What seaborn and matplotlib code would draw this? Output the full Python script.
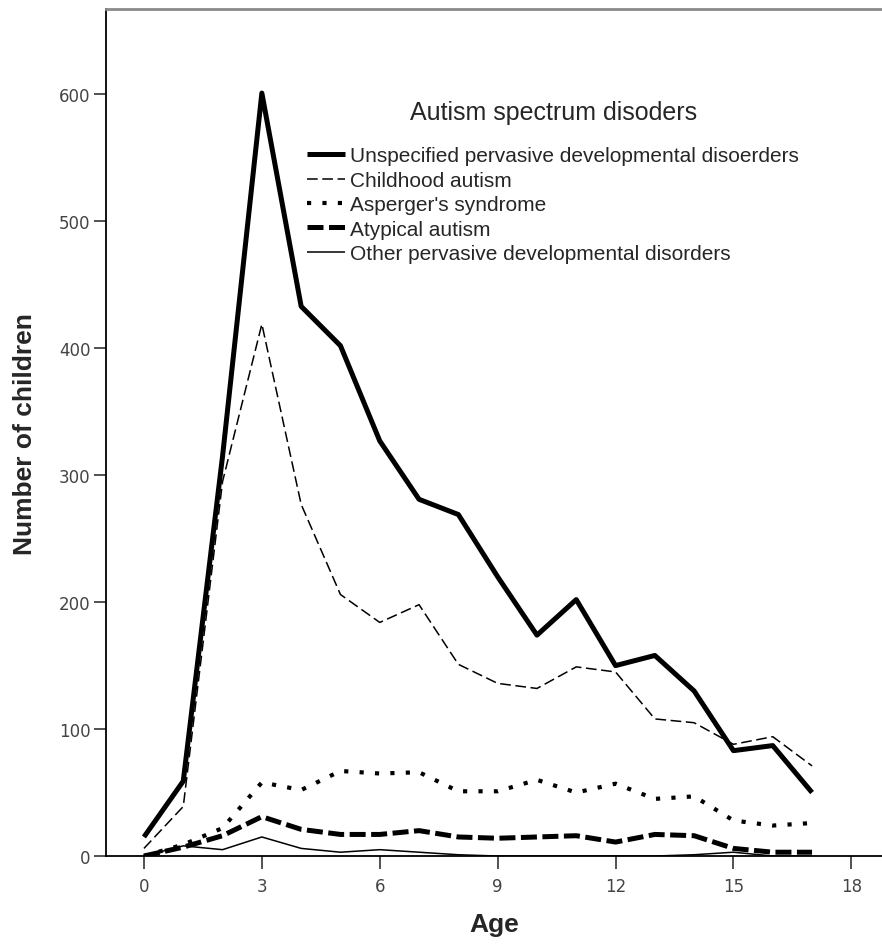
import pandas as pd
import matplotlib.pyplot as plt
import seaborn as sns

# ages 0..17
ages = list(range(18))

unspecified = [15, 59, 315, 601, 433, 402, 327, 281, 269, 220, 174, 202, 150, 158, 130, 83, 87, 50]
childhood = [6, 39, 295, 419, 277, 206, 184, 198, 151, 136, 132, 149, 145, 108, 105, 88, 94, 71]
asperger = [0, 9, 22, 58, 52, 67, 65, 66, 51, 51, 60, 50, 57, 45, 47, 28, 24, 26]
atypical = [0, 7, 16, 31, 21, 17, 17, 20, 15, 14, 15, 16, 11, 17, 16, 6, 3, 3]
other = [0, 8, 5, 15, 6, 3, 5, 3, 1, 0, 0, 0, 0, 0, 1, 3, 0, 0]

labels = [
    "Unspecified pervasive developmental disoerders",
    "Childhood autism",
    "Asperger's syndrome",
    "Atypical autism",
    "Other pervasive developmental disorders",
]
series = [unspecified, childhood, asperger, atypical, other]

x_ticks = [0, 3, 6, 9, 12, 15, 18]
y_ticks = [0, 100, 200, 300, 400, 500, 600]

# line width, dash pattern (None = solid)
styles = [
    (3.6, None),
    (1.1, (7, 3)),
    (3.0, (1, 2.7)),
    (3.6, (3.2, 1.1)),
    (1.1, None),
]

sns.set_style("ticks")
plt.rcParams['font.family'] = ['DejaVu Sans']

fig = plt.figure(figsize=(8.82, 9.45), dpi=100)
ax = fig.add_axes([0.120, 0.0931, 0.880, 0.896])

handles = []
for vals, lab, (lw, dash) in zip(series, labels, styles):
    df = pd.DataFrame({'age': ages, 'n': vals})
    sns.lineplot(data=df, x='age', y='n', ax=ax, color='black', linewidth=lw)
    line = ax.lines[-1]
    if dash is not None:
        line.set_dashes(dash)
    line.set_solid_capstyle('butt')
    line.set_label(lab)
    handles.append(line)

ax.set_xlim(-0.97, 18.78)
ax.set_ylim(0, 667)
ax.set_xticks(x_ticks)
ax.set_yticks(y_ticks)
ax.tick_params(axis='both', length=9, width=1.2, color='#333333',
               labelsize=12, labelcolor='#444444')
ax.tick_params(axis='x', pad=6)
ax.tick_params(axis='y', pad=2)

for s in ['left', 'bottom']:
    ax.spines[s].set_color('black')
    ax.spines[s].set_linewidth(1.3)
ax.spines['top'].set_visible(True)
ax.spines['top'].set_color('#8a8a8a')
ax.spines['top'].set_linewidth(2)
ax.spines['right'].set_visible(False)

lab_font = dict(family=['Liberation Sans Narrow', 'Liberation Sans'], fontweight='bold', fontsize=19)
ax.set_xlabel('Age', labelpad=12, **lab_font)
ax.set_ylabel('Number of children', labelpad=16, **lab_font)

leg = ax.legend(handles=handles, labels=labels, title='Autism spectrum disoders',
                loc='upper left', bbox_to_anchor=(0.246, 0.905), frameon=False,
                prop={'family': 'Liberation Sans', 'size': 15},
                title_fontproperties={'family': 'Liberation Sans', 'size': 18},
                handlelength=1.83, handletextpad=0.24, labelspacing=0.26, borderpad=0)
leg._legend_box.sep = 16

fig.savefig('out.png', dpi=100)
